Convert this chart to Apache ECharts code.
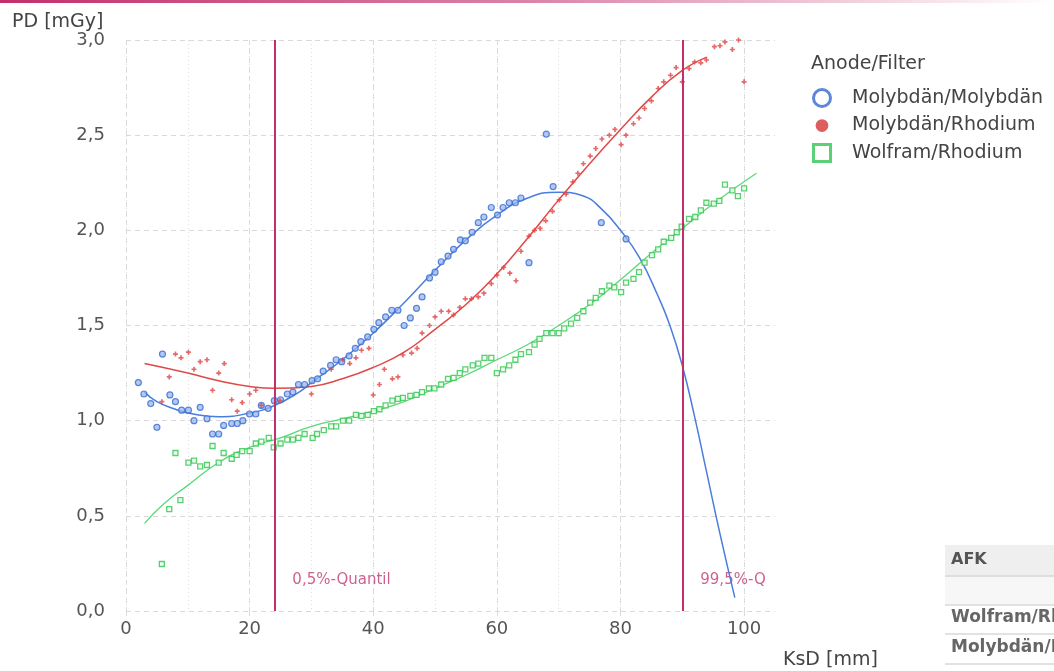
<!DOCTYPE html>
<html>
<head>
<meta charset="utf-8">
<script src="https://cdn.jsdelivr.net/npm/echarts@6/dist/echarts.min.js"></script>
<style>
  html, body { margin: 0; padding: 0; background: #fff; }
  #chart { width: 1054px; height: 671px; }
</style>
</head>
<body>
<div id="chart"></div>
<script>
// Messpunkte PD [mGy] über KsD [mm]
var moMoPoints = [[2,1.20],[2.9,1.14],[4,1.09],[5,0.965],[5.9,1.35],[7.1,1.135],[8,1.10],[9,1.055],[10.1,1.055],[11,1.00],
  [12,1.07],[13.1,1.01],[14,0.93],[15,0.93],[15.8,0.975],[17.1,0.985],[18,0.985],[18.9,1.00],[20,1.035],[21,1.035],
  [21.9,1.08],[23,1.065],[24,1.105],[25,1.11],[26.1,1.14],[27,1.15],[27.9,1.19],[28.9,1.19],[30.1,1.21],[31,1.22],
  [31.9,1.26],[33.1,1.29],[34,1.32],[34.9,1.31],[36.1,1.34],[37.1,1.38],[38,1.415],[39.1,1.44],[40.1,1.48],[40.9,1.515],
  [42,1.545],[43,1.58],[44,1.58],[45,1.50],[46,1.54],[47,1.59],[47.9,1.65],[49.1,1.75],[50,1.78],[51,1.835],
  [52.1,1.865],[53,1.90],[54.1,1.95],[54.9,1.945],[56,1.99],[57,2.04],[57.9,2.07],[59.1,2.12],[60.1,2.08],[61,2.12],
  [62,2.145],[63,2.145],[63.9,2.17],[65.2,1.83],[68,2.505],[69.1,2.23],[76.9,2.04],[80.9,1.955]];

var moRhPoints = [[5.8,1.10],[7,1.23],[8,1.35],[8.9,1.33],[10.1,1.36],[11,1.27],[12,1.31],[13.1,1.32],[14,1.16],[15,1.25],
  [15.9,1.30],[17.1,1.11],[18,1.05],[18.8,1.095],[20,1.14],[21,1.16],[21.9,1.08],[24.9,1.105],[30,1.14],[33.2,1.27],
  [35.1,1.32],[36.2,1.30],[37.2,1.33],[38.1,1.37],[39.3,1.38],[40,1.135],[41,1.19],[41.8,1.27],[43.1,1.22],[44,1.23],
  [44.8,1.345],[46.2,1.355],[47.1,1.38],[47.9,1.46],[49.1,1.50],[50,1.545],[51,1.575],[52.2,1.575],[53,1.555],[54,1.595],
  [54.9,1.64],[55.9,1.64],[57,1.65],[57.9,1.67],[59.1,1.72],[60,1.765],[61.1,1.805],[62.1,1.775],[63.1,1.735],[63.9,1.89],
  [65.2,1.97],[66.1,2.00],[67,2.01],[67.9,2.05],[69,2.10],[70.1,2.16],[71.2,2.19],[72.3,2.255],[73.1,2.30],[74,2.35],
  [75.1,2.39],[76,2.43],[77,2.48],[78.2,2.50],[79.1,2.53],[80.1,2.45],[80.9,2.50],[82.1,2.56],[83,2.59],[83.9,2.64],
  [85,2.68],[86.1,2.745],[87,2.78],[88.1,2.815],[89,2.855],[90,2.78],[91.1,2.85],[92,2.885],[93,2.88],[93.9,2.895],
  [95.2,2.965],[96.1,2.97],[96.9,2.99],[98.1,2.95],[99.1,3.0],[100,2.78]];

var wRhPoints = [[5.8,0.247],[7,0.535],[8,0.83],[8.8,0.583],[10.1,0.78],[11,0.79],[12,0.76],[13.1,0.767],[14,0.867],[15,0.78],
  [15.8,0.83],[17.1,0.80],[17.9,0.82],[18.8,0.84],[20,0.84],[21,0.88],[21.9,0.89],[23.1,0.91],[23.9,0.86],[25,0.88],
  [26.1,0.90],[27,0.90],[27.9,0.91],[28.9,0.93],[30.2,0.91],[30.9,0.93],[32,0.95],[33.2,0.97],[34,0.97],[35.1,1.00],
  [36.1,1.00],[37.2,1.03],[38.1,1.025],[39.1,1.03],[40.1,1.05],[41,1.06],[42,1.08],[43.1,1.105],[44,1.115],[44.8,1.12],
  [46,1.13],[47,1.135],[47.9,1.15],[49,1.17],[49.9,1.17],[51,1.19],[52.1,1.22],[53,1.225],[54,1.25],[54.9,1.27],
  [56.1,1.29],[57,1.30],[58,1.33],[59.1,1.33],[60,1.25],[61,1.27],[62,1.29],[63,1.32],[63.9,1.35],[65.2,1.36],
  [66.1,1.40],[66.9,1.43],[68,1.46],[69,1.46],[70,1.46],[70.9,1.485],[72,1.51],[73,1.54],[74,1.575],[75.1,1.62],
  [76,1.645],[77,1.68],[78.2,1.71],[79,1.70],[80.1,1.675],[80.9,1.725],[82.1,1.745],[83,1.78],[83.9,1.83],[85.1,1.87],
  [86.1,1.90],[87,1.94],[88.2,1.96],[89.1,1.99],[89.9,2.02],[91.1,2.06],[92.1,2.07],[93,2.105],[93.9,2.145],[95.1,2.14],
  [96,2.155],[96.9,2.24],[98.1,2.21],[99,2.18],[100,2.22]];

// Ausgleichskurven
var moMoFit = [[3,1.15],[5,1.10],[8,1.06],[10,1.04],[15,1.02],[20,1.04],[24,1.08],[28,1.15],[30,1.20],[35,1.32],
  [40,1.46],[45,1.62],[50,1.79],[55,1.95],[60,2.08],[65,2.17],[70,2.20],[74,2.18],[77,2.11],[80,2.00],
  [83,1.86],[86,1.66],[88,1.50],[90,1.29],[92,1.02],[94,0.72],[96,0.42],[98.5,0.07]];
var moRhFit = [[3,1.30],[10,1.25],[15,1.21],[20,1.18],[24,1.17],[30,1.18],[35,1.22],[40,1.28],[45,1.36],[50,1.48],
  [55,1.61],[60,1.77],[65,1.96],[70,2.16],[75,2.35],[80,2.53],[85,2.70],[90,2.84],[94,2.91]];
var wRhFit = [[3,0.46],[6,0.56],[10,0.66],[15,0.78],[20,0.86],[25,0.91],[30,0.97],[35,1.01],[40,1.05],[45,1.10],
  [50,1.17],[55,1.24],[60,1.32],[65,1.40],[70,1.50],[75,1.61],[80,1.74],[85,1.88],[90,2.01],[95,2.14],[102,2.30]];

var quantileX = [24, 90];
var quantileLabels = ['0,5%-Quantil', '99,5%-Q'];
var seriesNames = ['Molybdän/Molybdän', 'Molybdän/Rhodium', 'Wolfram/Rhodium'];
var tableRows = ['AFK', '', 'Wolfram/Rhodium', 'Molybdän/Molybdän'];

var FONT = 'DejaVu Sans';
var QCOL = '#c2306c';

var chart = echarts.init(document.getElementById('chart'));

var option = {
  backgroundColor: '#fff',
  animation: false,
  textStyle: { fontFamily: FONT },
  title: [
    { text: 'PD [mGy]', left: 7, top: 8, textStyle: { fontSize: 19, fontWeight: 'normal', color: '#444', fontFamily: FONT } },
    { text: 'KsD [mm]', left: 778, top: 646, textStyle: { fontSize: 19, fontWeight: 'normal', color: '#444', fontFamily: FONT } },
    { text: 'Anode/Filter', left: 806, top: 50, textStyle: { fontSize: 19, fontWeight: 'normal', color: '#444', fontFamily: FONT } }
  ],
  legend: {
    orient: 'vertical',
    left: 807,
    top: 83,
    itemWidth: 50,
    itemHeight: 17,
    itemGap: 8,
    selectedMode: false,
    textStyle: { fontSize: 19, color: '#444', fontFamily: FONT },
    data: [
      { name: seriesNames[0], icon: 'circle', itemStyle: { color: '#fff', borderColor: '#3567d0', borderWidth: 3 } },
      { name: seriesNames[1], icon: 'path://M0,0M16,16M8,2A6,6,0,1,1,7.99,2Z', itemStyle: { color: '#d63434', borderWidth: 0 } },
      { name: seriesNames[2], icon: 'path://M1,1H15V15H1Z', itemStyle: { color: '#fff', borderColor: '#33c452', borderWidth: 3 } }
    ]
  },
  grid: { left: 126, right: 279, top: 40, bottom: 60 },
  xAxis: [
    {
      type: 'value', min: 0, max: 105, interval: 20,
      axisLine: { show: false },
      axisTick: { show: true, length: 5, lineStyle: { color: '#dcdcdc' } },
      axisLabel: { fontSize: 18, color: '#555', margin: 9, showMaxLabel: false, fontFamily: FONT,
        formatter: function (v) { return v % 20 === 0 ? String(v) : ''; } },
      splitLine: { show: true, showMaxLine: false, lineStyle: { color: '#d9d9d9', type: [5, 4] } }
    },
    {
      type: 'value', min: 0, max: 105, interval: 10,
      axisLine: { show: false }, axisTick: { show: false }, axisLabel: { show: false },
      splitLine: { show: true, showMaxLine: false, lineStyle: { color: '#dddddd', type: [1, 3] } }
    }
  ],
  yAxis: {
    type: 'value', min: 0, max: 3, interval: 0.5,
    axisLine: { show: false },
    axisTick: { show: false },
    axisLabel: { fontSize: 18, color: '#555', margin: 21, fontFamily: FONT,
      formatter: function (v) { return v.toFixed(1).replace('.', ','); } },
    splitLine: { show: true, lineStyle: { color: '#d9d9d9', type: [5, 4] } }
  },
  graphic: [
    {
      type: 'rect', left: 0, top: 0, shape: { width: 1054, height: 3 }, z: 100,
      style: { fill: new echarts.graphic.LinearGradient(0, 0, 1, 0, [
        { offset: 0, color: '#c2306c' }, { offset: 0.5, color: 'rgba(194,48,108,0.6)' }, { offset: 1, color: 'rgba(194,48,108,0)' }]) }
    },
    // Tabelle unten rechts
    { type: 'rect', left: 945, top: 545, shape: { width: 109, height: 30 }, style: { fill: '#efefef' } },
    { type: 'rect', left: 945, top: 577, shape: { width: 109, height: 28 }, style: { fill: '#f7f7f7' } },
    { type: 'rect', left: 945, top: 575, shape: { width: 109, height: 2 }, style: { fill: '#dedede' } },
    { type: 'rect', left: 945, top: 604, shape: { width: 109, height: 2 }, style: { fill: '#e2e2e2' } },
    { type: 'rect', left: 945, top: 633, shape: { width: 109, height: 2 }, style: { fill: '#e2e2e2' } },
    { type: 'rect', left: 945, top: 663, shape: { width: 109, height: 2 }, style: { fill: '#e2e2e2' } },
    { type: 'text', left: 951, top: 552, style: { text: tableRows[0], font: 'bold 16px ' + FONT, fill: '#555' } },
    { type: 'text', left: 951, top: 609, style: { text: tableRows[2], font: 'bold 17px ' + FONT, fill: '#666' } },
    { type: 'text', left: 951, top: 639, style: { text: tableRows[3], font: 'bold 17px ' + FONT, fill: '#666' } }
  ],
  series: [
    {
      name: 'Quantile', type: 'scatter', symbolSize: 0, silent: true,
      data: quantileX.map(function (x, i) { return { value: [x, 0.16], label: { formatter: quantileLabels[i] } }; }),
      label: { show: true, position: 'right', distance: 18, color: '#c03a72', fontSize: 15, fontFamily: FONT },
      markLine: {
        silent: true, symbol: ['none', 'none'], label: { show: false },
        lineStyle: { color: QCOL, width: 2, type: 'solid' },
        data: quantileX.map(function (x) { return { xAxis: x }; })
      },
      z: 1
    },
    { name: 'Fit MoMo', type: 'line', data: moMoFit, smooth: true, showSymbol: false, lineStyle: { color: '#4a7ddc', width: 1.5 }, z: 3 },
    { name: 'Fit MoRh', type: 'line', data: moRhFit, smooth: true, showSymbol: false, lineStyle: { color: '#e04848', width: 1.5 }, z: 3 },
    { name: 'Fit WRh', type: 'line', data: wRhFit, smooth: true, showSymbol: false, lineStyle: { color: '#5ad878', width: 1.3 }, z: 3 },
    {
      name: seriesNames[0], type: 'scatter', data: moMoPoints, symbol: 'circle', symbolSize: 6,
      itemStyle: { color: 'rgba(150,180,238,0.9)', borderColor: '#3a6bd0', borderWidth: 1.2 }, z: 4
    },
    {
      name: seriesNames[1], type: 'scatter', data: moRhPoints, symbol: 'path://M2,0H4V2H6V4H4V6H2V4H0V2H2Z', symbolSize: 5,
      itemStyle: { color: '#e04444' }, z: 4
    },
    {
      name: seriesNames[2], type: 'scatter', data: wRhPoints, symbol: 'rect', symbolSize: 5,
      itemStyle: { color: '#f0fff2', borderColor: '#30c44e', borderWidth: 1.3 }, z: 4
    }
  ]
};

chart.setOption(option);
</script>
</body>
</html>
